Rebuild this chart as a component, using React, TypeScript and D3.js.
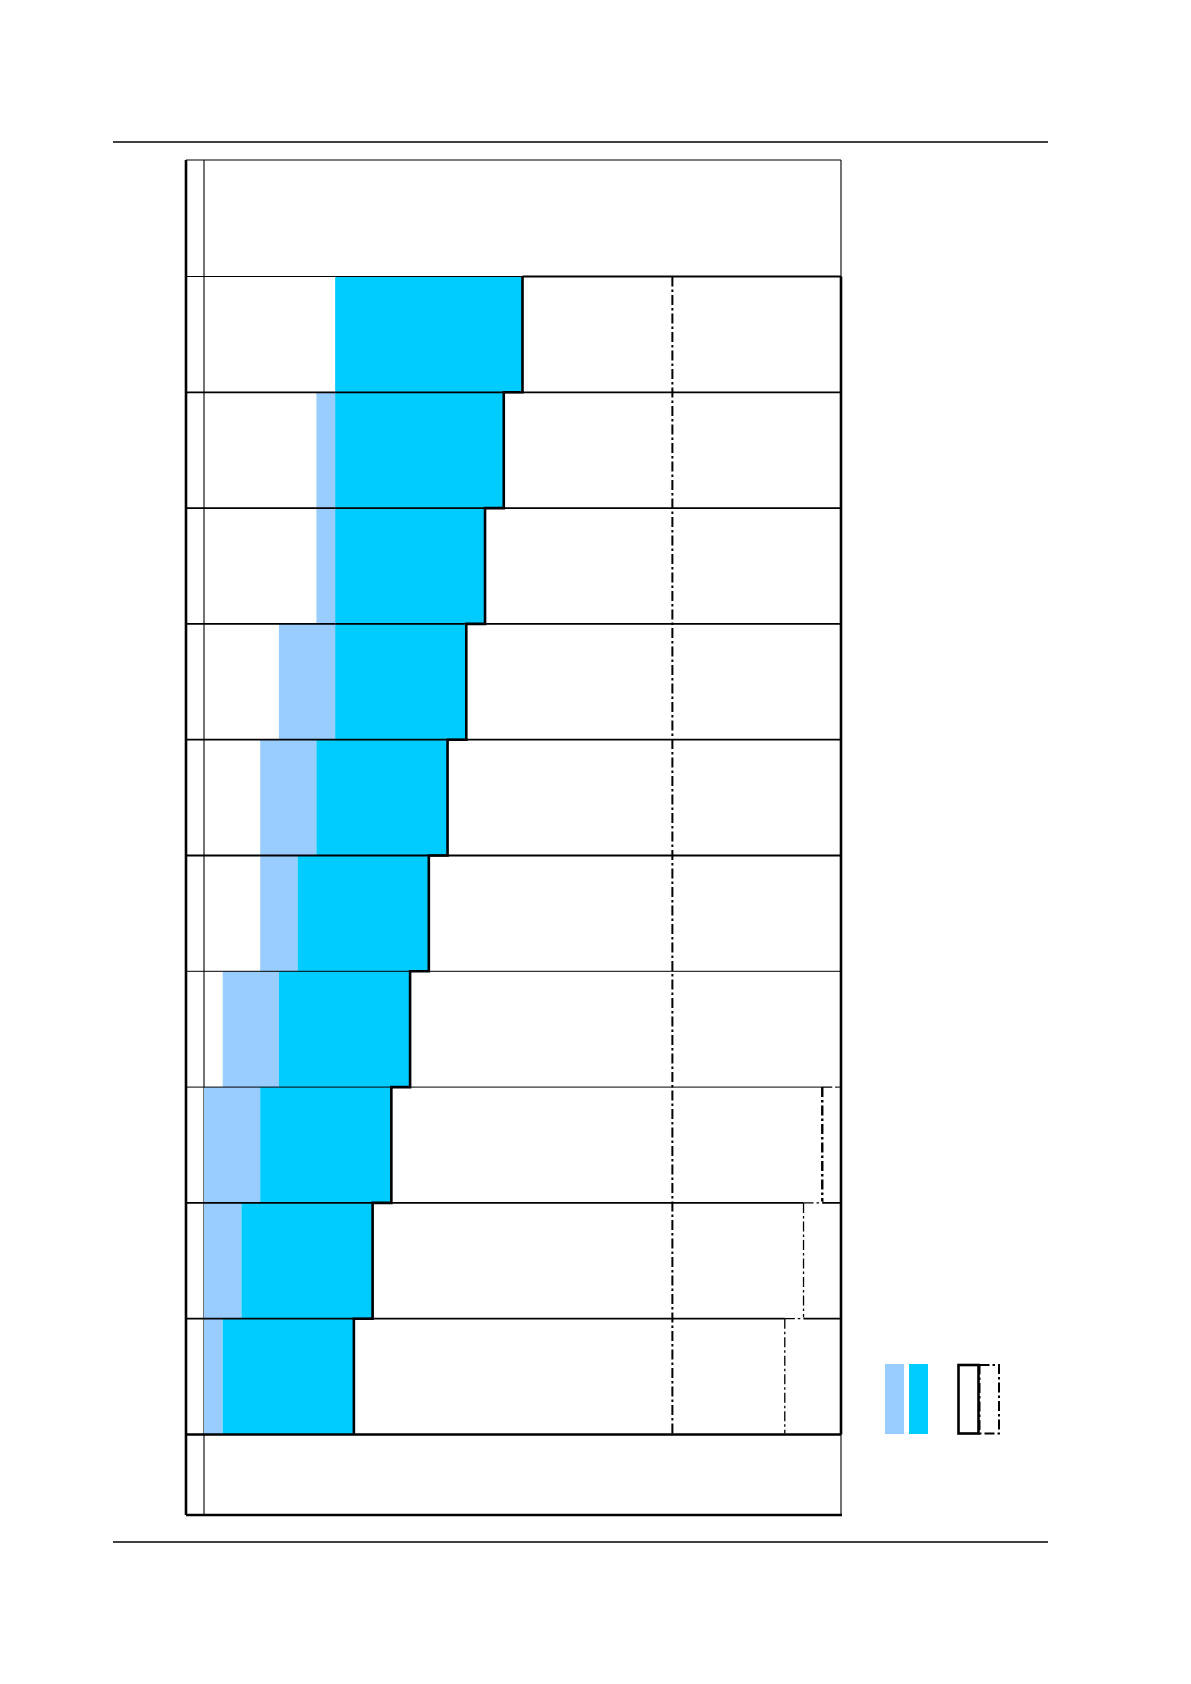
import React from "react";
import * as d3 from "d3";

// Schedule rows, top to bottom
const rows = ["1", "2", "3", "4", "5", "6", "7", "8", "9", "10"];
// Preparation phase (light blue) start, in periods
const prepStart = [7, 6, 6, 4, 3, 3, 1, 0, 0, 0];
// Main phase (cyan) start and end, in periods
const mainStart = [7, 7, 7, 7, 6, 5, 4, 3, 2, 1];
const mainEnd = [17, 16, 15, 14, 13, 12, 11, 10, 9, 8];
// Extended limit outline (dash-dot), in periods
const limitEnd = [34, 34, 34, 34, 34, 34, 34, 33, 32, 31];
// Milestone marker (dash-dot vertical), in periods
const milestone = 25;
const periodsTotal = 34;

const LIGHT = "#99CCFF";
const CYAN = "#00CCFF";

export default function App() {
  const W = 1191;
  const H = 1684;
  const frameL = 186;
  const innerL = 204;
  const frameR = 841;
  const frameT = 160;
  const frameB = 1515;
  const gridT = 276.5;
  const gridB = 1434.5;

  const x = d3.scaleLinear().domain([0, periodsTotal]).range([innerL, frameR]);
  const y = d3.scaleBand<string>().domain(rows).range([gridT, gridB]).padding(0);
  const bw = y.bandwidth();
  const top = (i: number) => y(rows[i]) as number;
  const bot = (i: number) => top(i) + bw;

  // stroke widths of the row boundaries below each row
  const boundaryWidth = [1.8, 1.8, 1.8, 1.8, 1.8, 1.0, 1.0, 1.8, 1.8, 2.6];

  // staircase outline through the end of the main phase
  let stair = `M${x(mainEnd[0])},${top(0)}`;
  mainEnd.forEach((e, i) => {
    stair += ` V${bot(i)}`;
    if (i < mainEnd.length - 1) stair += ` H${x(mainEnd[i + 1])}`;
  });

  const dashIdx = limitEnd.map((v, i) => i).filter((i) => limitEnd[i] < periodsTotal);
  const dashDot = "10,3,2.5,3";

  return (
    <svg
      width={W}
      height={H}
      style={{ position: "absolute", left: 0, top: 0, background: "#fff" }}
    >
      {/* page rules */}
      <line x1={113} x2={1048} y1={142} y2={142} stroke="#000" strokeWidth={1.5} />
      <line x1={113} x2={1048} y1={1542} y2={1542} stroke="#000" strokeWidth={1.5} />

      {/* inner label column line */}
      <line x1={innerL} x2={innerL} y1={frameT} y2={frameB} stroke="#000" strokeWidth={1.1} />

      {/* bars */}
      {rows.map((r, i) => (
        <g key={r}>
          {mainStart[i] > prepStart[i] && (
            <rect
              x={x(prepStart[i])}
              y={top(i)}
              width={x(mainStart[i]) - x(prepStart[i])}
              height={bw}
              fill={LIGHT}
            />
          )}
          <rect
            x={x(mainStart[i])}
            y={top(i)}
            width={x(mainEnd[i]) - x(mainStart[i])}
            height={bw}
            fill={CYAN}
          />
        </g>
      ))}

      {/* frame */}
      <line x1={frameL} x2={frameR} y1={frameT} y2={frameT} stroke="#000" strokeWidth={1.2} />
      <line x1={frameR} x2={frameR} y1={frameT} y2={frameB} stroke="#000" strokeWidth={1.1} />
      <line x1={frameL} x2={frameR + 1} y1={frameB} y2={frameB} stroke="#000" strokeWidth={2.6} />
      <line x1={frameL} x2={frameL} y1={frameT} y2={frameB} stroke="#000" strokeWidth={2.6} />

      {/* top of first row */}
      <line x1={frameL} x2={x(mainEnd[0])} y1={gridT} y2={gridT} stroke="#000" strokeWidth={1.1} />
      <line x1={x(mainEnd[0])} x2={frameR} y1={gridT} y2={gridT} stroke="#000" strokeWidth={2.2} />

      {/* row boundaries */}
      {rows.map((r, i) => (
        <line
          key={"b" + r}
          x1={frameL}
          x2={frameR}
          y1={bot(i)}
          y2={bot(i)}
          stroke="#000"
          strokeWidth={boundaryWidth[i]}
        />
      ))}

      {/* right edge of the schedule area */}
      <line x1={frameR} x2={frameR} y1={gridT} y2={gridB} stroke="#000" strokeWidth={2.6} />

      {/* main phase staircase */}
      <path d={stair} fill="none" stroke="#000" strokeWidth={2.6} strokeLinejoin="miter" />

      {/* milestone */}
      <line
        x1={x(milestone)}
        x2={x(milestone)}
        y1={gridT}
        y2={gridB}
        stroke="#000"
        strokeWidth={2}
        strokeDasharray={dashDot}
      />

      {/* limit outline */}
      {dashIdx.map((i) => {
        const prev = limitEnd[i - 1];
        return (
          <g key={"d" + i}>
            <line
              x1={x(limitEnd[i])}
              x2={x(prev) - (prev === periodsTotal ? 3 : 0)}
              y1={top(i)}
              y2={top(i)}
              stroke="#fff"
              strokeWidth={3}
            />
            <line
              x1={x(limitEnd[i])}
              x2={x(prev) - (prev === periodsTotal ? 3 : 0)}
              y1={top(i)}
              y2={top(i)}
              stroke="#000"
              strokeWidth={1.3}
              strokeDasharray={dashDot}
            />
            <line
              x1={x(limitEnd[i])}
              x2={x(limitEnd[i])}
              y1={top(i)}
              y2={bot(i) - 1}
              stroke="#000"
              strokeWidth={i === dashIdx[0] ? 2.4 : 1.3}
              strokeDasharray={dashDot}
            />
          </g>
        );
      })}

      {/* legend */}
      <rect x={885} y={1364} width={19} height={70} fill={LIGHT} />
      <rect x={909} y={1364} width={19} height={70} fill={CYAN} />
      <rect x={958.5} y={1365} width={20} height={68.5} fill="none" stroke="#000" strokeWidth={2.6} />
      <rect
        x={979.5}
        y={1365}
        width={19.5}
        height={68.5}
        fill="none"
        stroke="#000"
        strokeWidth={2}
        strokeDasharray={dashDot}
      />
    </svg>
  );
}
